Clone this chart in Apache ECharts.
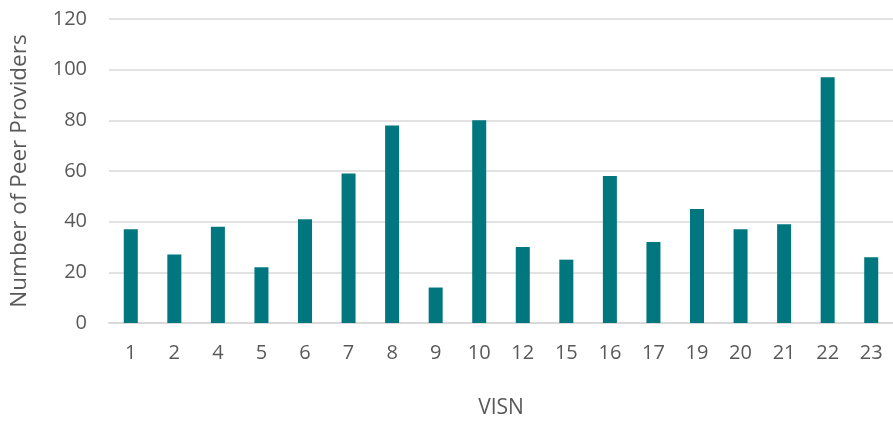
<!DOCTYPE html>
<html>
<head>
<meta charset="utf-8">
<script src="https://cdn.jsdelivr.net/npm/echarts@6/dist/echarts.min.js"></script>
<style>
  html, body { margin: 0; padding: 0; background: #fff; }
  #chart { width: 893px; height: 424px; }
</style>
</head>
<body>
<div id="chart"></div>
<script>
// VISN categories and the number of peer providers in each
const visnLabels = ['1', '2', '4', '5', '6', '7', '8', '9', '10', '12', '15', '16', '17', '19', '20', '21', '22', '23'];
const peerProviders = [37, 27, 38, 22, 41, 59, 78, 14, 80, 30, 25, 58, 32, 45, 37, 39, 97, 26];
const yTicks = { min: 0, max: 120, step: 20 };

const textColor = '#595959';
const font = 'Open Sans';

const chart = echarts.init(document.getElementById('chart'), null, { renderer: 'canvas' });
chart.setOption({
  animation: false,
  // plot runs slightly past the right edge of the canvas
  grid: { left: 104, top: 19, width: 797, height: 312, containLabel: false },
  xAxis: {
    type: 'category',
    data: visnLabels,
    name: 'VISN',
    nameLocation: 'middle',
    nameGap: 75,
    nameTextStyle: { color: textColor, fontFamily: font, fontSize: 21 },
    axisTick: { show: false },
    axisLine: { lineStyle: { color: '#d9d9d9', width: 2 } },
    axisLabel: { color: textColor, fontFamily: font, fontSize: 20, margin: 20 }
  },
  yAxis: {
    type: 'value',
    min: yTicks.min,
    max: yTicks.max,
    interval: yTicks.step,
    name: 'Number of Peer Providers',
    nameLocation: 'middle',
    nameGap: 78,
    nameTextStyle: { color: textColor, fontFamily: font, fontSize: 22.5 },
    axisLine: { show: false },
    axisTick: { show: false },
    axisLabel: { color: textColor, fontFamily: font, fontSize: 20, margin: 22 },
    splitLine: { lineStyle: { color: '#d9d9d9', width: 1.5 } }
  },
  series: [{
    type: 'bar',
    data: peerProviders,
    barWidth: 14,
    itemStyle: { color: '#00767f' }
  }]
});
</script>
</body>
</html>
